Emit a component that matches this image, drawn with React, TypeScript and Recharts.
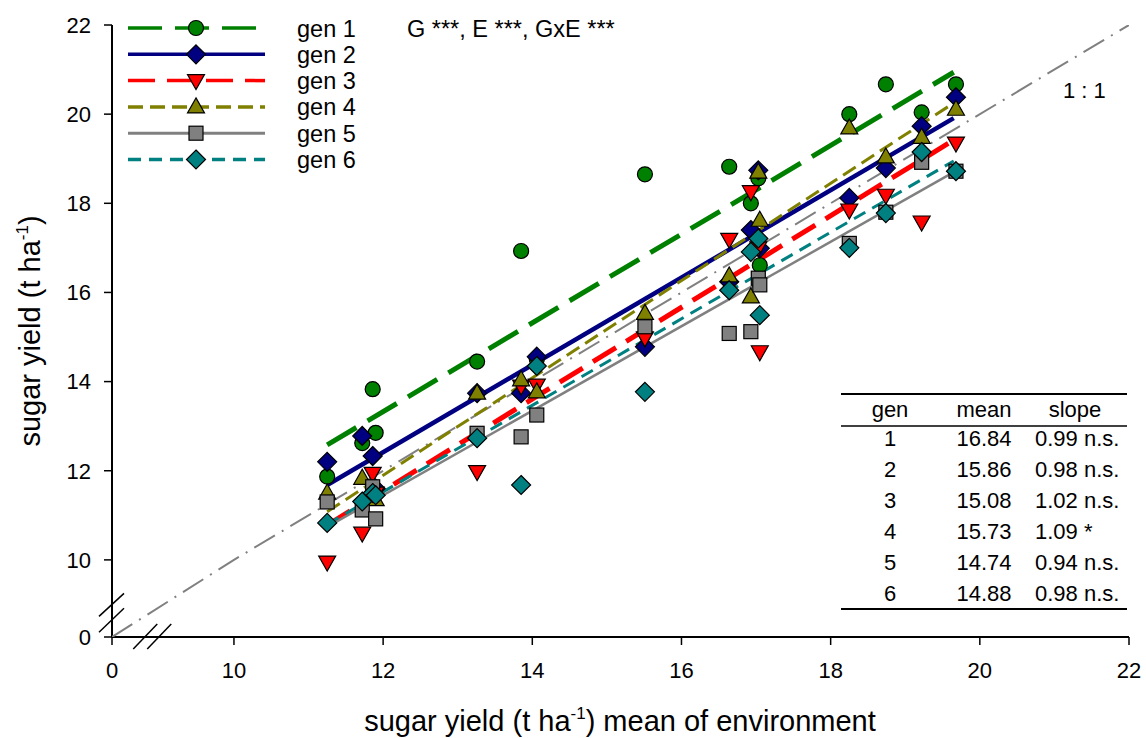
import { ReferenceDot, Scatter, ScatterChart, XAxis, YAxis } from "recharts"

// environment means (x) and per-genotype sugar yield (t/ha)
const envMean = [11.25, 11.72, 11.86, 11.9, 13.26, 13.85, 14.06, 15.51, 16.64, 16.93, 17.03, 17.05, 18.25, 18.74, 19.22, 19.68]
const gen1Yield = [11.87, 12.62, 13.83, 12.85, 14.45, 16.93, 14.5, 18.65, 18.82, 18.0, 18.56, 16.61, 20.0, 20.67, 20.04, 20.67]
const gen2Yield = [12.2, 12.78, 12.33, 11.6, 13.74, 13.74, 14.56, 14.78, 16.24, 17.4, 18.74, 16.99, 18.12, 18.79, 19.73, 20.38]
const gen3Yield = [9.95, 10.6, 11.94, 11.5, 11.98, 13.9, 13.92, 14.98, 17.19, 18.26, 17.0, 14.67, 17.85, 18.18, 17.58, 19.35]
const gen4Yield = [11.5, 11.83, 11.55, 11.35, 13.74, 14.04, 13.77, 15.53, 16.37, 15.9, 18.7, 17.62, 19.69, 19.04, 19.48, 20.11]
const gen5Yield = [11.3, 11.12, 11.64, 10.92, 12.84, 12.76, 13.25, 15.23, 15.08, 15.12, 16.32, 16.17, 17.1, 17.8, 18.92, 18.72]
const gen6Yield = [10.83, 11.31, 11.5, 11.45, 12.73, 11.68, 14.35, 13.77, 16.05, 16.91, 17.21, 15.49, 17.0, 17.78, 19.15, 18.72]

// fitted regression lines, value at the lowest and highest environment
const fitRange = [11.25, 19.65]
const fitLow = [12.58, 11.68, 10.78, 11.08, 10.74, 10.8]
const fitHigh = [20.94, 19.91, 19.42, 20.25, 18.7, 18.95]

const genIds = ["1", "2", "3", "4", "5", "6"]
const genMeans = ["16.84", "15.86", "15.08", "15.73", "14.74", "14.88"]
const genSlopes = ["0.99 n.s.", "0.98 n.s.", "1.02 n.s.", "1.09 *", "0.94 n.s.", "0.98 n.s."]

const oneToOne = [0, 10, 22]
const xTicks = [0, 10, 12, 14, 16, 18, 20, 22]
const yTicks = [0, 10, 12, 14, 16, 18, 20, 22]

const allYields = [gen1Yield, gen2Yield, gen3Yield, gen4Yield, gen5Yield, gen6Yield]

const styles = [
  { color: "#008000", shape: "circle", width: 5, legendWidth: 3.5, dash: "34 13" },
  { color: "#000080", shape: "diamond", width: 4.5, legendWidth: 3.5, dash: undefined },
  { color: "#ff0000", shape: "triangleDown", width: 5, legendWidth: 3.5, dash: "27 12" },
  { color: "#808000", shape: "triangle", width: 3, legendWidth: 3.5, dash: "15 7" },
  { color: "#808080", shape: "square", width: 2.5, legendWidth: 3, dash: undefined },
  { color: "#008080", shape: "diamond", width: 3, legendWidth: 3.5, dash: "13 8" },
]

// broken axes: 0..10 is squeezed into a short stretch
const X_ZERO = 8.365
const Y_ZERO = 8.27
const bx = (v: number) => (v < 10 ? X_ZERO + (v * (10 - X_ZERO)) / 10 : v)
const by = (v: number) => (v < 10 ? Y_ZERO + (v * (10 - Y_ZERO)) / 10 : v)

const FONT = '"Liberation Sans", Arial, sans-serif'

function Marker({ cx, cy, shape, color }: { cx: number; cy: number; shape: string; color: string }) {
  const p = { fill: color, stroke: "#000", strokeWidth: 1.2 }
  if (shape === "circle") return <circle cx={cx} cy={cy} r={7.5} {...p} />
  if (shape === "square") return <rect x={cx - 7} y={cy - 7} width={14} height={14} {...p} />
  if (shape === "diamond")
    return <polygon points={`${cx},${cy - 9.5} ${cx + 9.5},${cy} ${cx},${cy + 9.5} ${cx - 9.5},${cy}`} {...p} />
  if (shape === "triangle")
    return <polygon points={`${cx},${cy - 9} ${cx + 8.5},${cy + 6} ${cx - 8.5},${cy + 6}`} {...p} />
  return <polygon points={`${cx - 8.5},${cy - 6} ${cx + 8.5},${cy - 6} ${cx},${cy + 9}`} {...p} />
}

const noDot = () => <g />

function XBreak(props: any) {
  const { cx, cy } = props
  return (
    <g stroke="#000" strokeWidth={1.5}>
      <line x1={cx - 19} y1={cy + 12} x2={cx + 5} y2={cy - 13} />
      <line x1={cx - 5} y1={cy + 12} x2={cx + 19} y2={cy - 13} />
    </g>
  )
}

function YBreak(props: any) {
  const { cx, cy } = props
  return (
    <g stroke="#000" strokeWidth={1.5}>
      <line x1={cx - 13} y1={cy + 4} x2={cx + 12} y2={cy - 19} />
      <line x1={cx - 13} y1={cy + 20} x2={cx + 12} y2={cy - 4} />
    </g>
  )
}

export default function App() {
  const pointSets = allYields.map((ys) => envMean.map((x, i) => ({ x, y: ys[i] })))
  const fitSets = fitLow.map((lo, i) => [
    { x: fitRange[0], y: lo },
    { x: fitRange[1], y: fitHigh[i] },
  ])
  const diag = oneToOne.map((v) => ({ x: bx(v), y: by(v) }))

  const legendRow = (i: number) => 28 + i * 26.3
  const tableRow = (i: number) => 438 + i * 31

  return (
    <div style={{ position: "absolute", left: 0, top: 0, width: 1146, height: 738, background: "#fff", fontFamily: FONT }}>
      <ScatterChart width={1146} height={738} margin={{ top: 25, right: 17, bottom: 0, left: 0 }}>
        <XAxis
          type="number"
          dataKey="x"
          domain={[X_ZERO, 22]}
          allowDataOverflow
          ticks={xTicks.map(bx)}
          interval={0}
          tickFormatter={(v: number) => (v < 10 ? "0" : String(v))}
          height={101}
          tickSize={8}
          tickMargin={17}
          axisLine={{ stroke: "#000", strokeWidth: 2 }}
          tickLine={{ stroke: "#000", strokeWidth: 1.5 }}
          tick={{ fill: "#000", fontSize: 22, fontFamily: FONT }}
        />
        <YAxis
          type="number"
          dataKey="y"
          domain={[Y_ZERO, 22]}
          allowDataOverflow
          ticks={yTicks.map(by)}
          interval={0}
          tickFormatter={(v: number) => (v < 10 ? "0" : String(v))}
          width={112}
          tickSize={8}
          tickMargin={13}
          axisLine={{ stroke: "#000", strokeWidth: 2 }}
          tickLine={{ stroke: "#000", strokeWidth: 1.5 }}
          tick={{ fill: "#000", fontSize: 22, fontFamily: FONT }}
        />

        <Scatter
          data={diag}
          fill="#808080"
          line={{ stroke: "#808080", strokeWidth: 2, strokeDasharray: "24 8 2 8" }}
          shape={noDot}
          isAnimationActive={false}
          legendType="none"
        />

        {fitSets.map((d, i) => (
          <Scatter
            key={"fit" + i}
            data={d}
            fill={styles[i].color}
            line={{ stroke: styles[i].color, strokeWidth: styles[i].width, strokeDasharray: styles[i].dash }}
            shape={noDot}
            isAnimationActive={false}
            legendType="none"
          />
        ))}

        {pointSets.map((d, i) => (
          <Scatter
            key={"pts" + i}
            name={"gen " + genIds[i]}
            data={d}
            fill={styles[i].color}
            shape={(p: any) => <Marker cx={p.cx} cy={p.cy} shape={styles[i].shape} color={styles[i].color} />}
            isAnimationActive={false}
          />
        ))}

        <ReferenceDot x={bx(3.3)} y={by(0)} r={0} ifOverflow="visible" shape={XBreak} />
        <ReferenceDot x={bx(0)} y={by(3.2)} r={0} ifOverflow="visible" shape={YBreak} />
      </ScatterChart>

      <svg
        width={1146}
        height={738}
        style={{ position: "absolute", left: 0, top: 0, pointerEvents: "none" }}
        fontFamily={FONT}
      >
        {/* legend */}
        {styles.map((s, i) => (
          <g key={i}>
            <line
              x1={128}
              x2={265}
              y1={legendRow(i)}
              y2={legendRow(i)}
              stroke={s.color}
              strokeWidth={s.legendWidth}
              strokeDasharray={s.dash}
            />
            <Marker cx={196} cy={legendRow(i)} shape={s.shape} color={s.color} />
            <text x={297} y={legendRow(i) + 8.5} fontSize={23.5} fill="#000">
              gen {genIds[i]}
            </text>
          </g>
        ))}
        <text x={407} y={36.5} fontSize={23.5} fill="#000">
          G ***, E ***, GxE ***
        </text>
        <text x={1063} y={98} fontSize={22} fill="#000">
          1 : 1
        </text>

        {/* summary table */}
        <line x1={841} x2={1127} y1={394} y2={394} stroke="#000" strokeWidth={2} />
        <line x1={841} x2={1127} y1={426} y2={426} stroke="#000" strokeWidth={1.5} />
        <line x1={841} x2={1127} y1={609} y2={609} stroke="#000" strokeWidth={2} />
        <g fontSize={22} fill="#000">
          <text x={890} y={417} textAnchor="middle">gen</text>
          <text x={984} y={417} textAnchor="middle">mean</text>
          <text x={1075} y={417} textAnchor="middle">slope</text>
          {genIds.map((g, i) => (
            <g key={g}>
              <text x={890} y={tableRow(i) + 8} textAnchor="middle">{g}</text>
              <text x={984} y={tableRow(i) + 8} textAnchor="middle">{genMeans[i]}</text>
              <text x={1035} y={tableRow(i) + 8}>{genSlopes[i]}</text>
            </g>
          ))}
        </g>

        {/* axis titles */}
        <text x={620} y={731} fontSize={29} textAnchor="middle" fill="#000">
          sugar yield (t ha
          <tspan fontSize={17} dy={-12}>-1</tspan>
          <tspan dy={12}>) mean of environment</tspan>
        </text>
        <text transform="rotate(-90)" x={-331} y={40} fontSize={29} textAnchor="middle" fill="#000">
          sugar yield (t ha
          <tspan fontSize={17} dy={-12}>-1</tspan>
          <tspan dy={12}>)</tspan>
        </text>
      </svg>
    </div>
  )
}
